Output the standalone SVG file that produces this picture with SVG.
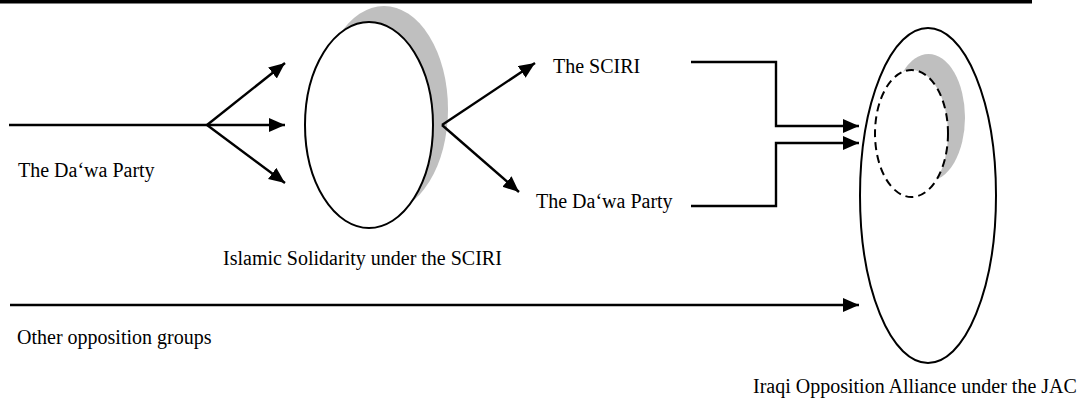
<svg xmlns="http://www.w3.org/2000/svg" width="1082" height="405" viewBox="0 0 1082 405">
<defs>
<style>
.lbl{font-family:"Liberation Serif","Times New Roman",serif;font-size:20px;fill:#000}
.ln{stroke:#000;stroke-width:2.4;fill:none}
.ell{fill:#fff;stroke:#000;stroke-width:2}
.shadow{fill:#bfbfbf;stroke:none}
</style>
<marker id="ah" markerUnits="userSpaceOnUse" markerWidth="17" markerHeight="15" refX="16" refY="7" orient="auto">
<path d="M0,0 L16,7 L0,14 Z" fill="#000"/>
</marker>
</defs>
<rect width="1082" height="405" fill="#fff"/>
<rect x="0" y="0" width="1032" height="3.5" fill="#000"/>

<g id="islamic-solidarity">
<ellipse class="shadow" cx="384" cy="109" rx="64" ry="103"/>
<ellipse class="ell" cx="369" cy="125" rx="64" ry="103"/>
<text class="lbl" x="223" y="265">Islamic Solidarity under the SCIRI</text>
</g>

<g id="iraqi-opposition-alliance">
<ellipse class="ell" cx="928" cy="195.5" rx="68" ry="167.5"/>
<ellipse class="shadow" cx="928.5" cy="117.5" rx="36.5" ry="63.5"/>
<ellipse class="ell" cx="911.5" cy="133.5" rx="36.5" ry="63.5" stroke-dasharray="8,5"/>
<text class="lbl" x="753" y="393">Iraqi Opposition Alliance under the JAC</text>
</g>

<g id="dawa-party-left">
<text class="lbl" x="18" y="177">The Da‘wa Party</text>
</g>
<g id="sciri">
<text class="lbl" x="553" y="73">The SCIRI</text>
</g>
<g id="dawa-party-right">
<text class="lbl" x="536" y="208">The Da‘wa Party</text>
</g>
<g id="other-opposition">
<text class="lbl" x="17" y="344">Other opposition groups</text>
</g>

<g id="connectors">
<line class="ln" x1="9" y1="125" x2="207" y2="125"/>
<line class="ln" x1="207" y1="125" x2="285" y2="63" marker-end="url(#ah)"/>
<line class="ln" x1="207" y1="125" x2="285" y2="125" marker-end="url(#ah)"/>
<line class="ln" x1="207" y1="125" x2="285" y2="183" marker-end="url(#ah)"/>
<line class="ln" x1="442" y1="125" x2="535" y2="63" marker-end="url(#ah)"/>
<line class="ln" x1="442" y1="125" x2="519" y2="192" marker-end="url(#ah)"/>
<polyline class="ln" points="691,62 776,62 776,126 859,126" marker-end="url(#ah)"/>
<polyline class="ln" points="691,206 776,206 776,143 859,143" marker-end="url(#ah)"/>
<line class="ln" x1="10" y1="305" x2="859" y2="305" marker-end="url(#ah)"/>
</g>
</svg>
